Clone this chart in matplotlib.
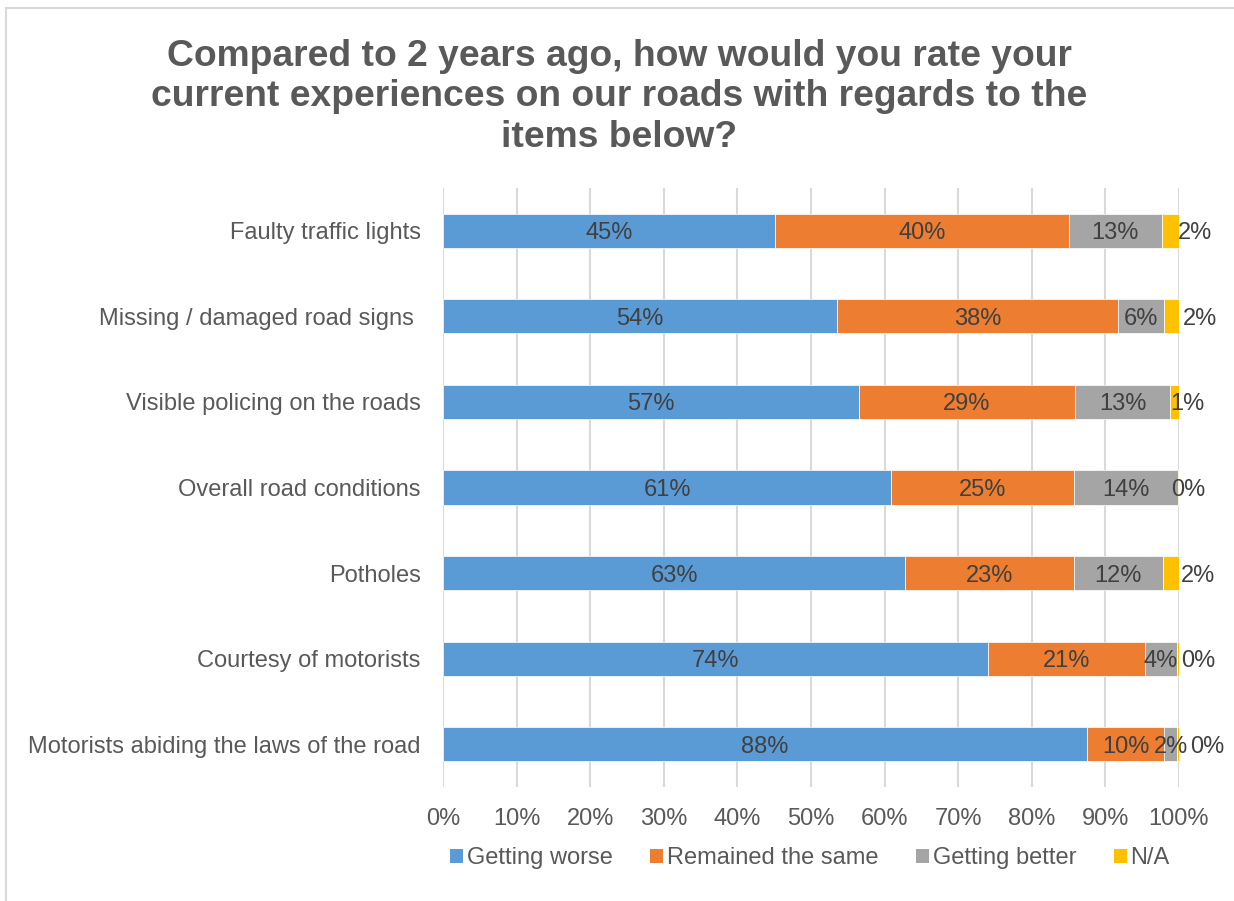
import matplotlib
matplotlib.use("Agg")
import matplotlib.pyplot as plt
from matplotlib.lines import Line2D
from matplotlib.patches import Patch
import numpy as np

plt.rcParams['font.family'] = ['Liberation Sans', 'DejaVu Sans']

categories = [
    "Faulty traffic lights",
    "Missing / damaged road signs ",
    "Visible policing on the roads",
    "Overall road conditions",
    "Potholes",
    "Courtesy of motorists",
    "Motorists abiding the laws of the road",
]
series_names = ["Getting worse", "Remained the same", "Getting better", "N/A"]
getting_worse = [45.1, 53.5, 56.5, 60.9, 62.8, 74.0, 87.5]
remained_same = [39.9, 38.2, 29.4, 24.8, 22.9, 21.4, 10.5]
getting_better = [12.7, 6.3, 12.9, 14.1, 12.1, 4.3, 1.7]
not_applicable = [2.3, 2.0, 1.2, 0.2, 2.2, 0.3, 0.3]
labels_worse = ["45%", "54%", "57%", "61%", "63%", "74%", "88%"]
labels_same = ["40%", "38%", "29%", "25%", "23%", "21%", "10%"]
labels_better = ["13%", "6%", "13%", "14%", "12%", "4%", "2%"]
labels_na = ["2%", "2%", "1%", "0%", "2%", "0%", "0%"]
tick_labels = ["0%", "10%", "20%", "30%", "40%", "50%", "60%", "70%", "80%", "90%", "100%"]

# label offsets (in % units) for N/A labels placed beyond the bar end
na_label_x = [102.2, 102.9, 101.2, 101.2, 102.6, 102.6, 103.8]

colors = ["#5B9BD5", "#ED7D31", "#A5A5A5", "#FFC000"]
text_color = "#595959"
label_color = "#404040"
FS = 17

fig = plt.figure(figsize=(12.34, 9.01), dpi=100)
ax = fig.add_axes([443/1234, 1-787/901, (1179-443)/1234, (787-188)/901])

y = np.arange(len(categories))
series = [getting_worse, remained_same, getting_better, not_applicable]
series_labels = [labels_worse, labels_same, labels_better, labels_na]
left = np.zeros(len(categories))
for vals, col, name, labs in zip(series, colors, series_names, series_labels):
    vals = np.array(vals)
    ax.barh(y, vals, left=left, height=0.4, color=col, label=name,
            edgecolor="white", linewidth=0.5, zorder=3)
    if name != "N/A":
        for yi, l, v, lab in zip(y, left, vals, labs):
            ax.text(l + v/2, yi, lab, ha="center", va="center_baseline",
                    fontsize=FS, color=label_color, zorder=4)
    else:
        for yi, lx, lab in zip(y, na_label_x, labs):
            ax.text(lx, yi, lab, ha="center", va="center_baseline",
                    fontsize=FS, color=label_color, zorder=4, clip_on=False)
    left = left + vals

ax.set_xlim(0, 100)
ax.set_ylim(len(categories)-0.5, -0.5)
ax.set_xticks(np.arange(0, 101, 10))
ax.set_xticklabels(tick_labels, fontsize=FS, color=text_color)
ax.set_yticks(y)
ax.set_yticklabels(categories, fontsize=FS, color=text_color)
ax.tick_params(axis="both", length=0)
ax.tick_params(axis="x", pad=15)
ax.tick_params(axis="y", pad=16)
ax.grid(axis="x", color="#D9D9D9", linewidth=1.5, zorder=0)
for s in ax.spines.values():
    s.set_visible(False)

handles = [Patch(facecolor=c, edgecolor="none") for c in colors]
fig.legend(handles, series_names, loc="center", bbox_to_anchor=(810/1234, 1-858/901),
           ncol=4, frameon=False, fontsize=FS, handlelength=0.55, handleheight=0.55,
           handletextpad=0.15, columnspacing=1.6, labelcolor=text_color)

fig.text(0.5 + 0.002, 1-97/901,
         "Compared to 2 years ago, how would you rate your\ncurrent experiences on our roads with regards to the\nitems below?",
         ha="center", va="center", fontsize=26.8, fontweight="bold", color=text_color,
         linespacing=1.2)

# chart border
fig.add_artist(Line2D([6/1234, 6/1234], [0, 1-8/901], color="#D9D9D9", linewidth=1.5))
fig.add_artist(Line2D([6/1234, 1], [1-8/901, 1-8/901], color="#D9D9D9", linewidth=1.5))

fig.savefig("out.png", dpi=100, facecolor="white")
